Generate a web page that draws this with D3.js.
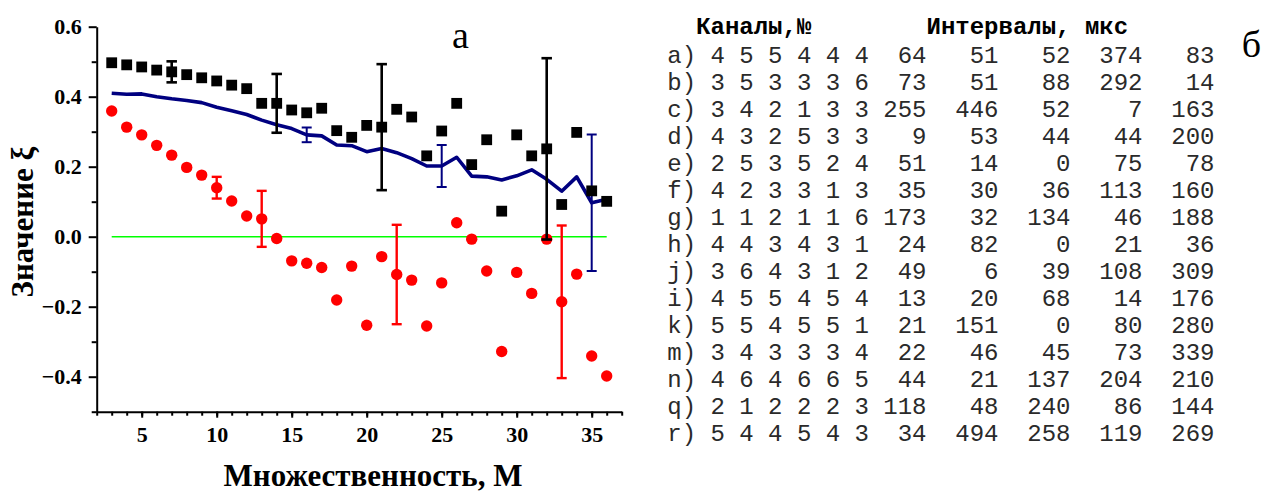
<!DOCTYPE html>
<html>
<head>
<meta charset="utf-8">
<script src="https://cdn.jsdelivr.net/npm/d3@7"></script>
<style>
  html, body { margin: 0; padding: 0; background: #fff; }
  svg { display: block; }
</style>
</head>
<body>
<svg id="chart" width="1263" height="493"></svg>
<script>
// Multiplicity M (x values shared by all three series)
const multiplicity = d3.range(3, 37);

// Black squares
const squareValues = [0.497, 0.491, 0.485, 0.476, 0.471, 0.463, 0.454, 0.445, 0.433, 0.423,
  0.381, 0.381, 0.362, 0.354, 0.367, 0.303, 0.284, 0.318, 0.313, 0.364,
  0.342, 0.231, 0.302, 0.381, 0.206, 0.277, 0.073, 0.291, 0.231, 0.251,
  0.092, 0.298, 0.131, 0.101];

// Navy line
const lineValues = [0.410, 0.407, 0.408, 0.400, 0.394, 0.389, 0.383, 0.370, 0.360, 0.349,
  0.333, 0.320, 0.309, 0.291, 0.288, 0.262, 0.260, 0.243, 0.252, 0.240,
  0.223, 0.202, 0.202, 0.227, 0.173, 0.171, 0.162, 0.174, 0.191, 0.164,
  0.130, 0.171, 0.097, 0.107];

// Red circles
const circleValues = [0.359, 0.313, 0.291, 0.261, 0.233, 0.198, 0.176, 0.140, 0.102, 0.059,
  0.051, -0.005, -0.069, -0.076, -0.088, -0.181, -0.084, -0.253, -0.057, -0.108,
  -0.124, -0.255, -0.132, 0.040, -0.007, -0.098, -0.328, -0.102, -0.162, -0.007,
  -0.186, -0.107, -0.341, -0.398];

// Error bars: [M, half-width]
const squareErrors = [[7, 0.030], [14, 0.084], [21, 0.180], [32, 0.259]];
const circleErrors = [[10, 0.031], [13, 0.080], [22, 0.142], [33, 0.218]];
const lineErrors = [[16, 0.021], [25, 0.060], [35, 0.195]];

// Axis ticks
const xMajorTicks = [5, 10, 15, 20, 25, 30, 35];
const xMinorTicks = d3.range(2, 38);
const yMajorTicks = [-0.4, -0.2, 0.0, 0.2, 0.4, 0.6];
const yMinorTicks = [-0.5, -0.3, -0.1, 0.1, 0.3, 0.5];

// Table (б)
const rowLabels = ["a)", "b)", "c)", "d)", "e)", "f)", "g)", "h)", "j)", "i)", "k)", "m)", "n)", "q)", "r)"];
const channels = [
  [4, 5, 5, 4, 4, 4], [3, 5, 3, 3, 3, 6], [3, 4, 2, 1, 3, 3], [4, 3, 2, 5, 3, 3],
  [2, 5, 3, 5, 2, 4], [4, 2, 3, 3, 1, 3], [1, 1, 2, 1, 1, 6], [4, 4, 3, 4, 3, 1],
  [3, 6, 4, 3, 1, 2], [4, 5, 5, 4, 5, 4], [5, 5, 4, 5, 5, 1], [3, 4, 3, 3, 3, 4],
  [4, 6, 4, 6, 6, 5], [2, 1, 2, 2, 2, 3], [5, 4, 4, 5, 4, 3]
];
const intervals = [
  [64, 51, 52, 374, 83], [73, 51, 88, 292, 14], [255, 446, 52, 7, 163],
  [9, 53, 44, 44, 200], [51, 14, 0, 75, 78], [35, 30, 36, 113, 160],
  [173, 32, 134, 46, 188], [24, 82, 0, 21, 36], [49, 6, 39, 108, 309],
  [13, 20, 68, 14, 176], [21, 151, 0, 80, 280], [22, 46, 45, 73, 339],
  [44, 21, 137, 204, 210], [118, 48, 240, 86, 144], [34, 494, 258, 119, 269]
];
const headerChannels = "Каналы,№";
const headerIntervals = "Интервалы, мкс";

const svg = d3.select("#chart");
svg.append("rect").attr("width", 1263).attr("height", 493).attr("fill", "#fff");

const x = d3.scaleLinear().domain([2, 37]).range([96.7, 621.7]);
const y = d3.scaleLinear().domain([-0.5, 0.6]).range([411.7, 26.7]);

const serif = "'Liberation Serif', 'Times New Roman', serif";
const mono = "'Liberation Mono', 'Courier New', monospace";

// Axes
function styleAxis(g, withDomain) {
  g.selectAll("path.domain").attr("stroke", "#000").attr("stroke-width", 2)
    .attr("display", withDomain ? null : "none");
  g.selectAll(".tick line").attr("stroke", "#000").attr("stroke-width", 2);
  g.selectAll(".tick text").attr("fill", "#000")
    .attr("font-family", serif).attr("font-weight", "bold").attr("font-size", 22);
}

svg.append("g").attr("transform", `translate(0,${y(-0.5)})`)
  .call(d3.axisBottom(x).tickValues(xMinorTicks).tickSize(4).tickSizeOuter(0).tickFormat(""))
  .call(g => styleAxis(g, false));
svg.append("g").attr("transform", `translate(0,${y(-0.5)})`)
  .call(d3.axisBottom(x).tickValues(xMajorTicks).tickSize(6).tickSizeOuter(0).tickPadding(9).tickFormat(d3.format("d")))
  .call(g => styleAxis(g, true));

svg.append("g").attr("transform", `translate(${x(2)},0)`)
  .call(d3.axisLeft(y).tickValues(yMinorTicks).tickSize(5).tickSizeOuter(0).tickFormat(""))
  .call(g => styleAxis(g, false));
svg.append("g").attr("transform", `translate(${x(2)},0)`)
  .call(d3.axisLeft(y).tickValues(yMajorTicks).tickSize(8).tickSizeOuter(0).tickPadding(7).tickFormat(d3.format(".1f")))
  .call(g => styleAxis(g, true));

// Axis titles
svg.append("text")
  .attr("x", 373).attr("y", 486)
  .attr("text-anchor", "middle")
  .attr("font-family", serif).attr("font-weight", "bold").attr("font-size", 31)
  .text("Множественность, М");

svg.append("text")
  .attr("transform", "translate(33,222) rotate(-90)")
  .attr("text-anchor", "middle")
  .attr("font-family", serif).attr("font-weight", "bold").attr("font-size", 31)
  .text("Значение ξ");

// Panel letters
svg.append("text").attr("x", 460.5).attr("y", 48.3).attr("text-anchor", "middle")
  .attr("font-family", serif).attr("font-size", 38).text("а");
svg.append("text").attr("x", 1241.7).attr("y", 57)
  .attr("font-family", serif).attr("font-size", 38).text("б");

// Zero reference line
svg.append("line")
  .attr("x1", x(multiplicity[0])).attr("x2", x(multiplicity[multiplicity.length - 1]))
  .attr("y1", y(0)).attr("y2", y(0))
  .attr("stroke", "#00ff00").attr("stroke-width", 1.6);

// Error bar helper
function errorBars(data, values, color, width, cap) {
  const g = svg.append("g").attr("stroke", color).attr("stroke-width", width).attr("fill", "none");
  data.forEach(([m, e]) => {
    const v = values[multiplicity.indexOf(m)];
    const cx = x(m);
    g.append("line").attr("x1", cx).attr("x2", cx).attr("y1", y(v + e)).attr("y2", y(v - e));
    g.append("line").attr("x1", cx - cap / 2).attr("x2", cx + cap / 2).attr("y1", y(v + e)).attr("y2", y(v + e));
    g.append("line").attr("x1", cx - cap / 2).attr("x2", cx + cap / 2).attr("y1", y(v - e)).attr("y2", y(v - e));
  });
}

// Navy line
svg.append("path")
  .datum(multiplicity.map((m, i) => [m, lineValues[i]]))
  .attr("fill", "none").attr("stroke", "#000080").attr("stroke-width", 3.6)
  .attr("stroke-linejoin", "round")
  .attr("d", d3.line().x(d => x(d[0])).y(d => y(d[1])));
errorBars(lineErrors, lineValues, "#000080", 2, 10);

// Red circles
svg.append("g").selectAll("circle")
  .data(multiplicity.map((m, i) => [m, circleValues[i]]))
  .join("circle")
  .attr("cx", d => x(d[0])).attr("cy", d => y(d[1])).attr("r", 5.7)
  .attr("fill", "#ff0000");
errorBars(circleErrors, circleValues, "#ff0000", 2.4, 10);

// Black squares
const side = 10.8;
svg.append("g").selectAll("rect")
  .data(multiplicity.map((m, i) => [m, squareValues[i]]))
  .join("rect")
  .attr("x", d => x(d[0]) - side / 2).attr("y", d => y(d[1]) - side / 2)
  .attr("width", side).attr("height", side)
  .attr("fill", "#000");
errorBars(squareErrors, squareValues, "#000", 2.6, 10.5);

// Table: monospace grid, character columns mapped to pixels
const col = d3.scaleLinear().domain([0, 1]).range([667.3, 681.7]);
const rowY = d3.scaleLinear().domain([0, 1]).range([62.5, 89.5]);

const table = svg.append("g").attr("font-family", mono).attr("font-size", 24).attr("fill", "#2a2a2a");
table.append("text").attr("x", col(2)).attr("y", 34).attr("font-weight", "bold").attr("fill", "#000")
  .text(headerChannels);
table.append("text").attr("x", col(18)).attr("y", 34).attr("font-weight", "bold").attr("fill", "#000")
  .text(headerIntervals);

rowLabels.forEach((lab, r) => {
  const row = table.append("g");
  row.append("text").attr("x", col(0)).attr("y", rowY(r)).text(lab);
  channels[r].forEach((c, j) => {
    row.append("text").attr("x", col(3 + 2 * j)).attr("y", rowY(r)).text(c);
  });
  intervals[r].forEach((v, j) => {
    row.append("text").attr("x", col(18 + 5 * j)).attr("y", rowY(r))
      .attr("text-anchor", "end").text(v);
  });
});
</script>
</body>
</html>
